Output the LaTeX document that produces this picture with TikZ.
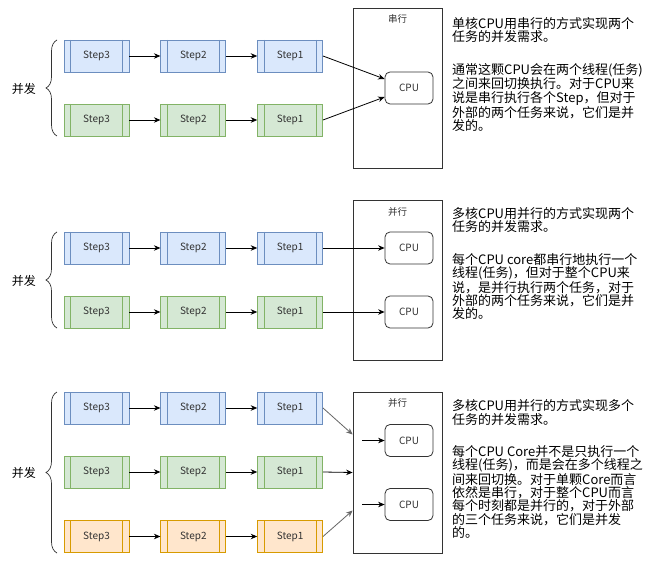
\documentclass[tikz,border=0pt]{standalone}
\usepackage{fontspec}
\setmainfont{Noto Sans CJK SC}
\usetikzlibrary{positioning, arrows.meta, decorations.pathreplacing}
\definecolor{bluefill}{HTML}{DAE8FC}
\definecolor{blueline}{HTML}{6C8EBF}
\definecolor{greenfill}{HTML}{D5E8D4}
\definecolor{greenline}{HTML}{82B366}
\definecolor{orangefill}{HTML}{FFE6CC}
\definecolor{orangeline}{HTML}{D79B00}
\definecolor{inkgray}{HTML}{333333}

\begin{document}
\begin{tikzpicture}[
  x=1pt, y=-1pt,
  node distance=31pt,
  stepbox/.style 2 args={rectangle, fill=#1, draw=#2, line width=0.8pt,
    minimum width=65pt, minimum height=32pt, inner sep=0pt,
    text=inkgray, font=\fontsize{10}{12}\selectfont,
    path picture={\draw[#2, line width=0.8pt]
      ([xshift=6.5pt]path picture bounding box.north west) -- ([xshift=6.5pt]path picture bounding box.south west)
      ([xshift=-6.5pt]path picture bounding box.north east) -- ([xshift=-6.5pt]path picture bounding box.south east);}},
  taskA/.style={stepbox={bluefill}{blueline}},
  taskB/.style={stepbox={greenfill}{greenline}},
  taskC/.style={stepbox={orangefill}{orangeline}},
  cpubox/.style={rectangle, rounded corners=5pt, draw=inkgray, line width=0.8pt,
    minimum width=48pt, minimum height=32pt, text=inkgray, font=\fontsize{10}{12}\selectfont},
  frame/.style={rectangle, draw=inkgray, line width=0.8pt, minimum width=89pt},
  ttl/.style={inner sep=0pt, text=inkgray, font=\fontsize{9.5}{11}\selectfont},
  lbl/.style={inner sep=0pt, font=\fontsize{12}{14}\selectfont},
  note/.style={anchor=north west, align=left, inner sep=0pt, font=\fontsize{13}{13.4}\selectfont},
  arr/.style={-{Stealth[length=6.5pt, width=5.5pt]}, line width=0.8pt},
  brc/.style={decorate, decoration={brace, amplitude=11pt}, draw=inkgray, line width=0.7pt}
]
\path[use as bounding box, fill=white] (0,0) rectangle (650,561);

% single core, serial
\node[taskA] (a3) at (96.5,56) {Step3};
\node[taskA, right=of a3] (a2) {Step2};
\node[taskA, right=of a2] (a1) {Step1};
\node[taskB] (b3) at (96.5,120) {Step3};
\node[taskB, right=of b3] (b2) {Step2};
\node[taskB, right=of b2] (b1) {Step1};
\node[frame, minimum height=160pt] (core1) at (397.5,88) {};
\node[ttl] (t1) at (397.5,19) {串行};
\node[cpubox] (cpu1) at (409,88) {CPU};
\draw[brc] (57,136) -- (57,40);
\node[lbl] (bf1) at (24,89) {并发};
\draw[arr] (a3) -- (a2);
\draw[arr] (a2) -- (a1);
\draw[arr] (b3) -- (b2);
\draw[arr] (b2) -- (b1);
\draw[arr] (a1.east) -- ([yshift=9pt]cpu1.west);
\draw[arr] (b1.east) -- ([yshift=-9pt]cpu1.west);
\node[note] (n1a) at (452,17) {单核CPU用串行的方式实现两个\\任务的并发需求。};
\node[note] (n1b) at (452,63) {通常这颗CPU会在两个线程(任务)\\之间来回切换执行。对于CPU来\\说是串行执行各个Step，但对于\\外部的两个任务来说，它们是并\\发的。};

% multi core, parallel
\node[taskA] (c3) at (96.5,248) {Step3};
\node[taskA, right=of c3] (c2) {Step2};
\node[taskA, right=of c2] (c1) {Step1};
\node[taskB] (d3) at (96.5,312) {Step3};
\node[taskB, right=of d3] (d2) {Step2};
\node[taskB, right=of d2] (d1) {Step1};
\node[frame, minimum height=160pt] (core2) at (397.5,280) {};
\node[ttl] (t2) at (397.5,212) {并行};
\node[cpubox] (cpu2a) at (409,248) {CPU};
\node[cpubox] (cpu2b) at (409,312) {CPU};
\draw[brc] (57,328) -- (57,232);
\node[lbl] (bf2) at (24,281) {并发};
\draw[arr] (c3) -- (c2);
\draw[arr] (c2) -- (c1);
\draw[arr] (d3) -- (d2);
\draw[arr] (d2) -- (d1);
\draw[arr] (c1) -- (cpu2a);
\draw[arr] (d1) -- (cpu2b);
\node[note] (n2a) at (452,207) {多核CPU用并行的方式实现两个\\任务的并发需求。};
\node[note] (n2b) at (452,253) {每个CPU core都串行地执行一个\\线程(任务)，但对于整个CPU来\\说，是并行执行两个任务，对于\\外部的两个任务来说，它们是并\\发的。};

% multi core, three tasks
\node[taskA] (e3) at (96.5,408) {Step3};
\node[taskA, right=of e3] (e2) {Step2};
\node[taskA, right=of e2] (e1) {Step1};
\node[taskB] (f3) at (96.5,472) {Step3};
\node[taskB, right=of f3] (f2) {Step2};
\node[taskB, right=of f2] (f1) {Step1};
\node[taskC] (g3) at (96.5,536.5) {Step3};
\node[taskC, right=of g3] (g2) {Step2};
\node[taskC, right=of g2] (g1) {Step1};
\node[frame, minimum height=161pt] (core3) at (397.5,472.5) {};
\node[ttl] (t3) at (397.5,403) {并行};
\node[cpubox] (cpu3a) at (409,440.5) {CPU};
\node[cpubox] (cpu3b) at (409,504.5) {CPU};
\coordinate (in1) at (362,440.5);
\coordinate (in2) at (362,504.5);
\draw[brc] (57,553) -- (57,392);
\node[lbl] (bf3) at (24,473) {并发};
\draw[arr] (e3) -- (e2);
\draw[arr] (e2) -- (e1);
\draw[arr] (f3) -- (f2);
\draw[arr] (f2) -- (f1);
\draw[arr] (g3) -- (g2);
\draw[arr] (g2) -- (g1);
\draw[arr, draw=black!60] (e1.east) -- ([yshift=38pt]core3.west);
\draw[arr] (f1.east) -- (core3.west);
\draw[arr, draw=black!60] (g1.east) -- ([yshift=-38pt]core3.west);
\draw[arr] (in1) -- (cpu3a);
\draw[arr] (in2) -- (cpu3b);
\node[note] (n3a) at (452,399.5) {多核CPU用并行的方式实现多个\\任务的并发需求。};
\node[note] (n3b) at (452,445) {每个CPU Core并不是只执行一个\\线程(任务)，而是会在多个线程之\\间来回切换。对于单颗Core而言\\依然是串行，对于整个CPU而言\\每个时刻都是并行的，对于外部\\的三个任务来说，它们是并发\\的。};
\end{tikzpicture}
\end{document}
